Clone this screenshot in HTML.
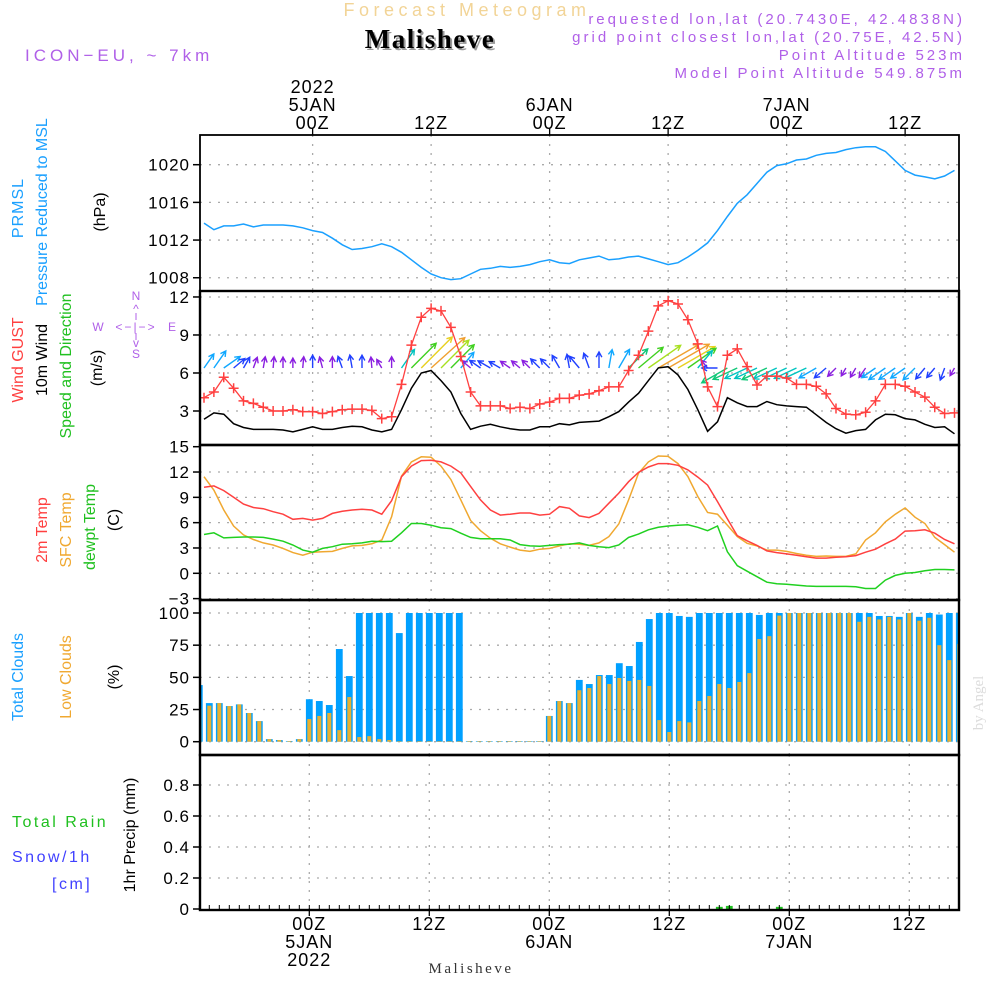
<!DOCTYPE html>
<html><head><meta charset="utf-8"><title>Forecast Meteogram Malisheve</title>
<style>
html,body{margin:0;padding:0;background:#fff;}
svg{display:block;font-family:"Liberation Sans",sans-serif;}
</style></head>
<body>
<svg id="chart" width="1000" height="1000" viewBox="0 0 1000 1000" xmlns="http://www.w3.org/2000/svg">
<rect x="0" y="0" width="1000" height="1000" fill="#fff"/>
<!-- header -->
<text x="467" y="16" text-anchor="middle" font-size="18" fill="#f2d497" letter-spacing="4.5">Forecast Meteogram</text>
<text x="432" y="50" text-anchor="middle" font-size="27" font-weight="bold" font-family="Liberation Serif, serif" letter-spacing="1.5" fill="#999">Malisheve</text>
<text x="430" y="48" text-anchor="middle" font-size="27" font-weight="bold" font-family="Liberation Serif, serif" letter-spacing="1.5" fill="#000">Malisheve</text>
<text x="25" y="61" font-size="17" fill="#b060e8" letter-spacing="4">ICON−EU, ~ 7km</text>
<text x="965" y="24" text-anchor="end" font-size="15" fill="#b060e8" letter-spacing="3">requested lon,lat (20.7430E, 42.4838N)</text>
<text x="965" y="42" text-anchor="end" font-size="15" fill="#b060e8" letter-spacing="3">grid point closest lon,lat (20.75E, 42.5N)</text>
<text x="965" y="60" text-anchor="end" font-size="15" fill="#b060e8" letter-spacing="3">Point Altitude 523m</text>
<text x="965" y="78" text-anchor="end" font-size="15" fill="#b060e8" letter-spacing="3">Model Point Altitude 549.875m</text>
<text x="471" y="973" text-anchor="middle" font-size="15" font-family="Liberation Serif, serif" fill="#333" letter-spacing="2.5">Malisheve</text>
<text transform="translate(983,703) rotate(-90)" text-anchor="middle" font-size="15" font-family="Liberation Serif, serif" fill="#dcdcdc">by Angel</text>

<!-- left labels -->
<g font-size="16">
<text transform="translate(23,208) rotate(-90)" text-anchor="middle" fill="#1aa0ff" letter-spacing="1">PRMSL</text>
<text transform="translate(47,212) rotate(-90)" text-anchor="middle" fill="#1aa0ff">Pressure Reduced to MSL</text>
<text transform="translate(105,212) rotate(-90)" text-anchor="middle" fill="#000">(hPa)</text>
</g>
<g font-size="16">
<text transform="translate(23,360) rotate(-90)" text-anchor="middle" fill="#ff4040">Wind GUST</text>
<text transform="translate(47,360) rotate(-90)" text-anchor="middle" fill="#000">10m Wind</text>
<text transform="translate(71,366) rotate(-90)" text-anchor="middle" fill="#20c020">Speed and Direction</text>
<text transform="translate(102,368) rotate(-90)" text-anchor="middle" fill="#000">(m/s)</text>
</g>
<g fill="#b060e8" stroke="none" font-size="12">
<text x="136" y="300" text-anchor="middle">N</text>
<text x="98" y="331" text-anchor="middle">W</text>
<text x="172" y="331" text-anchor="middle">E</text>
<text x="136" y="358" text-anchor="middle">S</text>
<text x="136" y="331" text-anchor="middle" letter-spacing="2">&lt;−|−&gt;</text>
<text x="136" y="313" text-anchor="middle">^</text>
<line x1="136" y1="313" x2="136" y2="320" stroke="#b060e8"/>
<line x1="136" y1="333" x2="136" y2="340" stroke="#b060e8"/>
<text x="136" y="347" text-anchor="middle">v</text>
</g>
<g font-size="16">
<text transform="translate(47,530) rotate(-90)" text-anchor="middle" fill="#ff4040">2m Temp</text>
<text transform="translate(71,530) rotate(-90)" text-anchor="middle" fill="#f0a830">SFC Temp</text>
<text transform="translate(95,527) rotate(-90)" text-anchor="middle" fill="#20c020">dewpt Temp</text>
<text transform="translate(119,520) rotate(-90)" text-anchor="middle" fill="#000">(C)</text>
</g>
<g font-size="16">
<text transform="translate(23,677) rotate(-90)" text-anchor="middle" fill="#1aa0ff">Total Clouds</text>
<text transform="translate(71,677) rotate(-90)" text-anchor="middle" fill="#f0a830">Low Clouds</text>
<text transform="translate(119,677) rotate(-90)" text-anchor="middle" fill="#000">(%)</text>
</g>
<g font-size="16">
<text x="12" y="827" fill="#20c020" letter-spacing="2.5">Total  Rain</text>
<text x="12" y="862" fill="#4040ff" letter-spacing="2.5">Snow/1h</text>
<text x="52" y="889" fill="#4040ff" letter-spacing="2.5">[cm]</text>
<text transform="translate(135,835) rotate(-90)" text-anchor="middle" fill="#000">1hr Precip (mm)</text>
</g>
<g id="plots"></g>
</svg>
<script>
// ---- data (hourly, first value 13Z 4 JAN 2022) ----
const pressure = [1013.8,1013.1,1013.5,1013.5,1013.7,1013.4,1013.6,1013.6,1013.6,1013.5,1013.3,1013.0,1012.8,1012.2,1011.5,1011.0,1011.1,1011.3,1011.6,1011.3,1010.7,1009.9,1009.1,1008.4,1008.0,1007.8,1007.9,1008.4,1008.9,1009.0,1009.2,1009.1,1009.2,1009.4,1009.7,1009.9,1009.6,1009.5,1009.9,1010.1,1010.3,1009.9,1010.0,1010.2,1010.3,1010.0,1009.7,1009.4,1009.6,1010.2,1010.9,1011.7,1013.0,1014.5,1015.9,1016.8,1018.0,1019.2,1019.9,1020.1,1020.5,1020.6,1021.0,1021.2,1021.3,1021.6,1021.8,1021.9,1021.9,1021.4,1020.4,1019.4,1018.9,1018.7,1018.5,1018.8,1019.4];
const windGust = [4.05,4.5,5.66,4.8,3.8,3.6,3.3,3.0,3.0,3.1,2.95,2.95,2.8,2.95,3.1,3.15,3.15,3.05,2.4,2.55,5.1,8.2,10.4,11.1,10.9,9.6,7.3,4.5,3.4,3.4,3.4,3.2,3.3,3.2,3.55,3.7,4.0,4.0,4.25,4.35,4.6,4.9,4.9,6.2,7.4,9.3,11.3,11.7,11.45,10.2,8.3,4.9,3.35,7.4,7.9,6.5,5.05,5.75,5.75,5.6,5.1,5.1,4.95,4.35,3.2,2.75,2.7,2.9,3.8,5.1,5.1,4.95,4.5,4.1,3.3,2.8,2.85];
const windSpeed = [2.35,2.85,2.75,2.0,1.7,1.55,1.55,1.55,1.5,1.35,1.55,1.75,1.55,1.55,1.7,1.8,1.75,1.5,1.35,1.55,3.1,4.8,6.0,6.2,5.4,4.5,2.8,1.55,1.8,1.95,1.75,1.6,1.5,1.5,1.75,1.75,2.0,1.9,2.1,2.15,2.2,2.55,2.95,3.7,4.4,5.4,6.4,6.5,5.85,4.7,3.1,1.4,2.15,4.05,3.65,3.35,3.35,3.75,3.5,3.4,3.35,3.3,2.7,2.1,1.6,1.25,1.45,1.55,2.3,2.75,2.7,2.4,2.3,1.95,1.7,1.75,1.2];
const windDir = [35,35,55,50,30,20,10,5,0,0,5,0,-15,0,-20,-10,0,-5,-30,0,35,45,45,48,45,45,40,-50,-55,-60,-60,-55,-50,-45,-45,-45,-30,-10,-40,-20,0,10,30,45,50,55,60,60,60,55,40,-40,-90,240,245,245,245,245,245,245,245,245,240,230,225,210,210,215,235,235,235,235,225,220,220,200,210];
const temp2m = [10.2,10.35,9.8,9.0,8.2,7.8,7.65,7.3,7.0,6.4,6.5,6.3,6.5,7.1,7.35,7.5,7.6,7.5,7.0,8.6,11.45,12.7,13.35,13.4,13.2,12.7,11.9,10.3,8.7,7.5,6.9,7.0,7.15,7.15,6.9,7.0,7.9,7.7,6.8,6.6,7.1,8.3,9.5,10.85,11.95,12.6,13.0,13.0,12.8,12.25,11.4,10.45,8.5,6.45,4.45,3.85,3.3,2.65,2.45,2.3,2.15,1.97,1.8,1.8,1.9,1.97,2.1,2.5,2.85,3.5,4.05,5.0,5.05,5.15,4.75,4.0,3.5];
const tempSfc = [11.45,9.85,7.5,5.6,4.55,4.0,3.6,3.35,2.95,2.45,2.15,2.5,2.55,2.6,2.95,3.25,3.3,3.5,3.95,6.7,11.5,13.2,13.8,13.75,12.7,11.1,8.7,6.25,5.05,4.15,3.5,3.1,2.75,2.6,2.85,2.95,3.25,3.5,3.45,3.3,3.6,4.35,5.85,8.7,11.85,13.2,13.9,13.85,13.0,11.45,9.1,7.2,7.0,5.7,4.35,3.55,3.25,2.75,2.75,2.6,2.35,2.15,2.0,2.05,2.0,2.0,2.3,3.95,4.8,6.1,7.0,7.75,6.65,5.9,4.25,3.4,2.5];
const dewpoint = [4.6,4.8,4.2,4.25,4.3,4.3,4.25,4.05,3.8,3.35,2.75,2.5,2.95,3.15,3.45,3.5,3.6,3.8,3.75,3.8,4.8,5.9,5.9,5.7,5.4,5.3,4.75,4.25,4.1,4.1,4.1,3.95,3.4,3.25,3.2,3.3,3.4,3.45,3.6,3.3,3.15,3.05,3.35,4.25,4.65,5.15,5.45,5.6,5.7,5.75,5.45,5.05,5.6,2.55,0.9,0.25,-0.4,-1.05,-1.25,-1.3,-1.4,-1.5,-1.55,-1.55,-1.55,-1.55,-1.6,-1.8,-1.8,-0.8,-0.25,0,0.1,0.3,0.45,0.45,0.4];
const totalClouds = [44,30,30,27.7,29,22.3,16,2,1.3,0.5,2,33,31.6,28.5,72,51,100,100,100,100,84.4,100,100,100,100,100,100,0.3,0.3,0.3,0.3,0.3,0.3,0.3,0.3,20,31.6,30,48,44.8,51.8,51.8,61,58.8,77.5,95.3,100,100,97.7,97,100,100,100,100,100,100,98.5,100,100,100,100,100,100,100,100,100,100,100,97.7,97.7,97,100,97,100,98.8,100,100];
const lowClouds = [25.4,28,30,27.7,29,22.3,16,2,1.3,0.5,2,17.6,20,22.3,9,34.7,3.6,4.3,2,1.3,0.3,0.3,0.3,0.3,0.3,0.3,0.3,0.3,0.3,0.3,0.3,0.3,0.3,0.3,0.3,20,31.6,30,40,41.7,51,44.8,49.5,47.2,48,43.3,16.8,7.5,16,15,31.6,35.5,44.8,41.7,46.4,53.3,79.8,82,98,100,100,100,100,100,100,100,93.2,97,95,97,95,100,94,96.3,75,63.4,76];
const precipHours = [52,53,58];
const precipValues = [0.014,0.02,0.014];
const pressureTicks = [1008,1012,1016,1020];
const windTicks = [3,6,9,12];
const tempTicks = [-3,0,3,6,9,12,15];
const cloudTicks = [0,25,50,75,100];
const precipTicks = [0,0.2,0.4,0.6,0.8];
const topTimeLabels = [["2022","5JAN","00Z"],["","","12Z"],["","6JAN","00Z"],["","","12Z"],["","7JAN","00Z"],["","","12Z"]];
const bottomTimeLabels = [["00Z","5JAN","2022"],["12Z","",""],["00Z","6JAN",""],["12Z","",""],["00Z","7JAN",""],["12Z","",""]];
const labelHours = [11,23,35,47,59,71];

// ---- axes ----
const X0 = 204, DX = 9.875;          // upper panels
const XC0 = 199.3, DXC = 10;         // cloud & precip panels
const PL = 200, PR = 959;
function xt(i){ return X0 + DX*i; }
function xc(i){ return XC0 + DXC*i; }
function yP(v){ return 164.7 + (1020 - v)*9.42; }
function yW(v){ return 411 - (v - 3)*12.67; }
function yT(v){ return 573.3 - v*8.44; }
function yC(v){ return 741.7 - v*1.287; }
function yR(v){ return 909 - v*155; }

const NS = "http://www.w3.org/2000/svg";
const root = document.getElementById('plots');
function mk(tag, attrs, parent){
  const e = document.createElementNS(NS, tag);
  for (const k in attrs) e.setAttribute(k, attrs[k]);
  (parent || root).appendChild(e);
  return e;
}
function txt(x, y, s, anchor, size, parent){
  const t = mk('text', {x:x, y:y, 'text-anchor':anchor, 'font-size':size, fill:'#000', 'letter-spacing':1}, parent);
  t.textContent = s;
  return t;
}

const panels = [
  {name:'pressure', top:135, bot:291, ticks:pressureTicks, y:yP, xg:xt},
  {name:'wind', top:291, bot:445, ticks:windTicks, y:yW, xg:xt},
  {name:'temperature', top:445, bot:600, ticks:tempTicks, y:yT, xg:xt},
  {name:'clouds', top:600, bot:755, ticks:cloudTicks, y:yC, xg:xc},
  {name:'precip', top:755, bot:910, ticks:precipTicks, y:yR, xg:xc}
];

panels.forEach(p => {
  const g = mk('g', {});
  
  
  const clipId = 'clip-' + p.name;
  const cp = mk('clipPath', {id: clipId}, g);
  mk('rect', {x:PL, y:p.top, width:PR-PL, height:p.bot-p.top}, cp);
  p.g = g; p.clip = 'url(#' + clipId + ')';
  const grid = mk('g', {stroke:'#aaa', 'stroke-width':1.3, 'stroke-dasharray':'2,7', 'clip-path':p.clip}, g);
  
  
  p.ticks.forEach(v => {
    const y = p.y(v);
    if (y > p.top + 2 && y < p.bot - 1) mk('line', {x1:PL, x2:PR, y1:y, y2:y}, grid);
  });
  labelHours.forEach(h => {
    const x = p.xg(h);
    mk('line', {x1:x, x2:x, y1:p.top, y2:p.bot}, grid);
  });
  const tl = mk('g', {}, g);
  
  
  p.ticks.forEach(v => {
    const y = p.y(v);
    mk('line', {x1:PL-7, x2:PL, y1:y, y2:y, stroke:'#000', 'stroke-width':1.5}, tl);
    txt(PL-10, y+6, String(v).replace('-', '−'), 'end', 17, tl);
  });
});

// ---- pressure ----
(function(){
  const p = panels[0];
  const pts = pressure.map((v,i) => xt(i).toFixed(1) + ',' + yP(v).toFixed(1)).join(' ');
  const l = mk('polyline', {points:pts, fill:'none', stroke:'#1aa0ff', 'stroke-width':1.5, 'clip-path':p.clip}, p.g);
  
  
})();

// ---- wind ----
function windColor(s){
  if (s < 1.7) return '#8a1ee0';
  if (s < 2.3) return '#2040ff';
  if (s < 3.0) return '#10a8ff';
  if (s < 3.6) return '#00c4c0';
  if (s < 4.3) return '#10c878';
  if (s < 5.0) return '#40d020';
  if (s < 5.7) return '#a8e020';
  if (s < 6.1) return '#e8d020';
  return '#f0a030';
}
(function(){
  const p = panels[1];
  const ag = mk('g', {'stroke-width':1.4, fill:'none', 'clip-path':p.clip}, p.g);
  
  
  windDir.forEach((d,i) => {
    const s = windSpeed[i];
    const len = Math.max(8, 7.3*s);
    const a = d*Math.PI/180;
    const x0 = xt(i), y0 = 368;
    const x1 = x0 + len*Math.sin(a), y1 = y0 - len*Math.cos(a);
    const c = windColor(s);
    const hl = 6;
    const h1 = a + Math.PI - 0.5, h2 = a + Math.PI + 0.5;
    const pth = mk('path', {d:`M${x0},${y0}L${x1},${y1}M${x1+hl*Math.sin(h1)},${y1-hl*Math.cos(h1)}L${x1},${y1}L${x1+hl*Math.sin(h2)},${y1-hl*Math.cos(h2)}`, stroke:c}, ag);
    
    
  });
  const ptsS = windSpeed.map((v,i) => xt(i).toFixed(1) + ',' + yW(v).toFixed(1)).join(' ');
  const ls = mk('polyline', {points:ptsS, fill:'none', stroke:'#000', 'stroke-width':1.5, 'clip-path':p.clip}, p.g);
  
  
  const ptsG = windGust.map((v,i) => xt(i).toFixed(1) + ',' + yW(v).toFixed(1)).join(' ');
  const lg = mk('polyline', {points:ptsG, fill:'none', stroke:'#ff4040', 'stroke-width':1.3, 'clip-path':p.clip}, p.g);
  
  
  const mg = mk('g', {stroke:'#ff4040', 'stroke-width':1.5}, p.g);
  
  
  windGust.forEach((v,i) => {
    const x = xt(i), y = yW(v);
    const m = mk('path', {d:`M${x-5},${y}h10M${x},${y-5}v10`}, mg);
    
    
  });
})();

// ---- temperature ----
(function(){
  const p = panels[2];
  [[tempSfc,'#f0a830','sfc-temp-line'],[temp2m,'#ff4040','temp-2m-line'],[dewpoint,'#20d020','dewpoint-line']].forEach(s => {
    const pts = s[0].map((v,i) => xt(i).toFixed(1) + ',' + yT(v).toFixed(1)).join(' ');
    const l = mk('polyline', {points:pts, fill:'none', stroke:s[1], 'stroke-width':1.5, 'clip-path':p.clip}, p.g);
    
    
  });
})();

// ---- clouds ----
(function(){
  const p = panels[3];
  const bg = mk('g', {'clip-path':p.clip}, p.g);
  
  
  totalClouds.forEach((v,i) => {
    const x = xc(i);
    const b = mk('rect', {x:x-3.4, y:yC(v), width:6.8, height:Math.max(0.6, yC(0)-yC(v)), fill:'#00a0ff'}, bg);
    
    
    const lv = lowClouds[i];
    const o = mk('rect', {x:x-2, y:yC(lv), width:4, height:Math.max(0.6, yC(0)-yC(lv)), fill:'#e8b030'}, bg);
    
    
  });
})();

// ---- precip ----
(function(){
  const p = panels[4];
  precipHours.forEach((h,k) => {
    const v = precipValues[k];
    const r = mk('rect', {x:xc(h)-3.4, y:yR(v), width:6.8, height:yR(0)-yR(v), fill:'#20c020'}, p.g);
    
    
  });
})();

// ---- borders ----
panels.forEach((p,k) => {
  const r = mk('rect', {x:PL, y:p.top, width:PR-PL, height:p.bot-p.top, fill:'none', stroke:'#000', 'stroke-width': k===0 ? 1.8 : 2.4}, p.g);
  
  
});

// ---- time axes ----
(function(){
  const tg = mk('g', {});
  
  
  labelHours.forEach((h,k) => {
    const x = xt(h);
    mk('line', {x1:x, x2:x, y1:128, y2:135, stroke:'#000', 'stroke-width':1.3}, tg);
    const L = topTimeLabels[k];
    if (L[0]) txt(x, 93, L[0], 'middle', 18, tg);
    if (L[1]) txt(x, 111, L[1], 'middle', 18, tg);
    if (L[2]) txt(x, 129, L[2], 'middle', 18, tg);
  });
  const bg = mk('g', {});
  
  
  for (let i = 0; i < 77; i++) {
    const x = xc(i);
    mk('line', {x1:x, x2:x, y1:905, y2:910, stroke:'#000', 'stroke-width':1}, bg);
  }
  labelHours.forEach((h,k) => {
    const x = xc(h);
    mk('line', {x1:x, x2:x, y1:910, y2:916, stroke:'#000', 'stroke-width':1.3}, bg);
    const L = bottomTimeLabels[k];
    if (L[0]) txt(x, 930, L[0], 'middle', 18, bg);
    if (L[1]) txt(x, 948, L[1], 'middle', 18, bg);
    if (L[2]) txt(x, 966, L[2], 'middle', 18, bg);
  });
})();
</script>
</body></html>
